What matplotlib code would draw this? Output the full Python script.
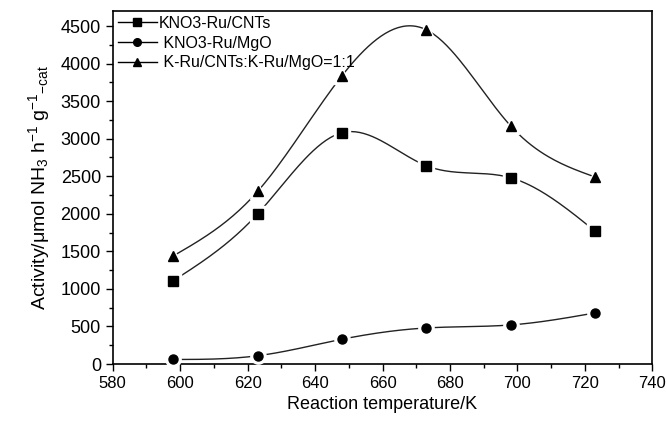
import numpy as np
import matplotlib
matplotlib.use("Agg")
import matplotlib.pyplot as plt
from matplotlib.ticker import MultipleLocator

plt.rcParams['font.family'] = ['Liberation Sans', 'DejaVu Sans']
plt.rcParams['mathtext.fontset'] = 'custom'
plt.rcParams['mathtext.rm'] = 'Liberation Sans'
plt.rcParams['mathtext.it'] = 'Liberation Sans:italic'

temps = [598, 623, 648, 673, 698, 723]
ru_cnts = [1110, 2000, 3080, 2640, 2480, 1770]
ru_mgo = [60, 110, 330, 480, 520, 680]
mixed = [1440, 2300, 3840, 4450, 3170, 2490]

labels = ['KNO3-Ru/CNTs', ' KNO3-Ru/MgO', ' K-Ru/CNTs:K-Ru/MgO=1:1']
markers = ['s', 'o', '^']
series = [ru_cnts, ru_mgo, mixed]


def spline(x, y, n=200):
    # natural cubic spline, only for drawing the smooth connecting line
    x = np.asarray(x, float)
    y = np.asarray(y, float)
    k = len(x)
    h = np.diff(x)
    A = np.zeros((k, k))
    b = np.zeros(k)
    A[0, 0] = A[-1, -1] = 1
    for i in range(1, k - 1):
        A[i, i - 1] = h[i - 1]
        A[i, i] = 2 * (h[i - 1] + h[i])
        A[i, i + 1] = h[i]
        b[i] = 3 * ((y[i + 1] - y[i]) / h[i] - (y[i] - y[i - 1]) / h[i - 1])
    c = np.linalg.solve(A, b)
    xs = np.linspace(x[0], x[-1], n)
    idx = np.clip(np.searchsorted(x, xs) - 1, 0, k - 2)
    dx = xs - x[idx]
    bb = (y[idx + 1] - y[idx]) / h[idx] - h[idx] * (2 * c[idx] + c[idx + 1]) / 3
    d = (c[idx + 1] - c[idx]) / (3 * h[idx])
    ys = y[idx] + bb * dx + c[idx] * dx ** 2 + d * dx ** 3
    return xs, ys


fig = plt.figure(figsize=(6.67, 4.24), dpi=100)
ax = fig.add_axes([0.169, 0.1415, 0.809, 0.8325])

handles = []
for vals, m, lab in zip(series, markers, labels):
    xs, ys = spline(temps, vals)
    ax.plot(xs, ys, color='#222222', lw=1.0, zorder=2)
    ax.plot(temps, vals, ls='none', marker=m, ms=11, color='white', zorder=3)
    ax.plot(temps, vals, ls='none', marker=m, ms=6.5, color='black', zorder=4)
    h, = ax.plot([], [], color='black', lw=1.0, marker=m, ms=5.5, label=lab)
    handles.append(h)

ax.legend(handles=handles, loc='upper left', frameon=False, fontsize=11.5,
          handlelength=2.5, handletextpad=0.1, labelspacing=0.3,
          borderaxespad=0.2, borderpad=0.1)

ax.set_xlim(580, 740)
ax.set_ylim(0, 4700)
ax.xaxis.set_major_locator(MultipleLocator(20))
ax.xaxis.set_minor_locator(MultipleLocator(10))
ax.yaxis.set_major_locator(MultipleLocator(500))
ax.yaxis.set_minor_locator(MultipleLocator(250))
ax.tick_params(which='major', direction='out', length=5, width=1, labelsize=12)
ax.tick_params(axis='y', labelsize=13)
ax.tick_params(which='minor', direction='out', length=3, width=1)
for s in ax.spines.values():
    s.set_linewidth(1.2)

ax.set_xlabel('Reaction temperature/K', fontsize=13)
ax.set_ylabel(r'Activity/$\mathrm{\mu}$mol NH$_3$ h$^{-1}$ g$^{-1}$$_{\mathrm{-cat}}$',
              fontsize=14, labelpad=6)

fig.savefig('out.png', dpi=100)
